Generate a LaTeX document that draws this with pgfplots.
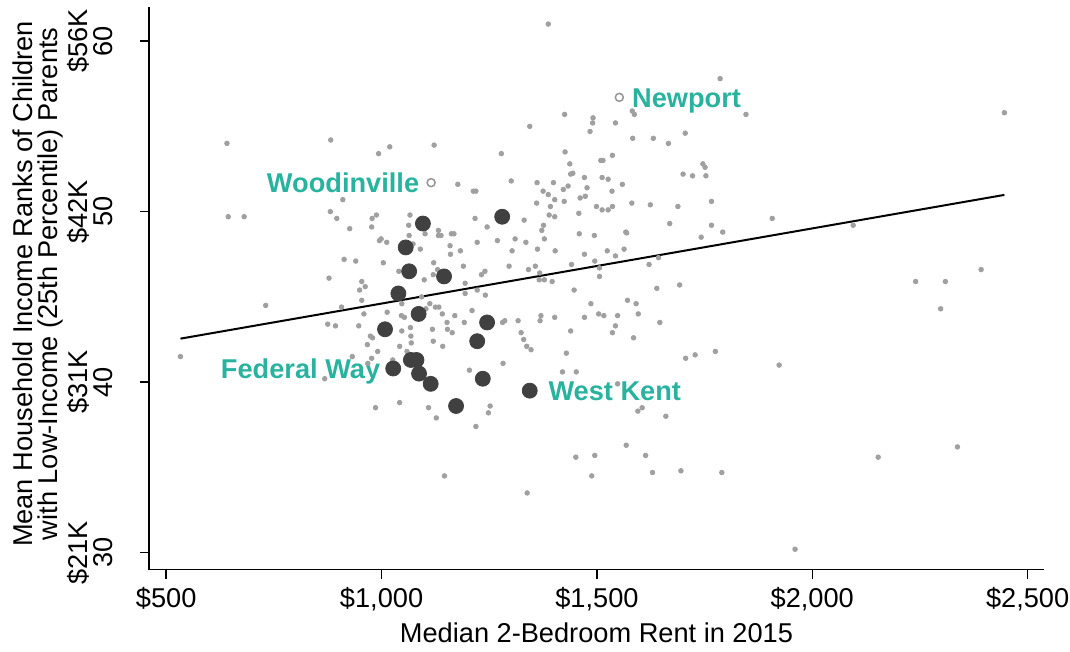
\documentclass[border=0pt]{standalone}
\usepackage{fontspec}
\setmainfont{Liberation Sans}
\usepackage{pgfplots}
\pgfplotsset{compat=1.18}
\definecolor{dotgray}{RGB}{160,160,160}
\definecolor{bigdot}{RGB}{64,64,64}
\definecolor{ringgray}{RGB}{150,150,150}
\definecolor{labteal}{RGB}{41,179,159}
\newcommand{\fs}{\fontsize{13.6}{12.5}\selectfont}

\pgfplotstableread{
X Y
641 54.0
882 54.2
993 53.4
1019 53.8
1122 53.9
910 50.7
1387 61.0
1786 57.8
1582 55.9
1587 55.7
1425 55.7
1344 55.0
1491 55.5
1490 55.2
1543 55.2
1484 54.7
1583 54.3
1631 54.3
1666 54.0
1705 54.6
1278 53.4
1426 53.5
1437 52.8
1509 53.0
1514 53.0
1536 53.3
1439 52.2
1444 52.25
1471 52.0
1512 52.0
1526 51.9
1559 51.6
1700 52.2
1722 52.1
1753 52.1
1746 52.8
1751 52.6
1177 51.6
1213 51.2
1219 51.2
1301 51.8
1361 51.7
1399 51.7
1375 51.2
1387 51.0
1422 51.3
1433 51.5
1477 51.4
1473 50.9
1461 50.8
1535 51.2
1402 50.7
1424 50.6
1766 50.6
1846 55.7
2446 55.8
644 49.7
681 49.7
881 50.0
896 49.6
926 49.0
978 49.6
988 49.8
977 49.1
995 48.3
999 48.4
1012 48.2
1066 49.8
1063 49.2
1064 48.6
1101 48.7
1132 48.9
1132 48.6
1138 48.6
1073 48.1
1090 47.8
913 47.2
940 47.1
1004 47.0
1040 46.5
1121 47.0
1130 46.6
1120 46.3
1099 46.0
878 46.1
954 45.9
949 45.4
962 45.6
954 44.8
731 44.5
907 44.4
959 44.0
1013 44.1
1047 44.6
1093 45.0
1103 44.3
1112 44.6
1125 44.4
1133 44.4
1046 43.9
1053 43.8
875 43.4
893 43.3
947 43.3
1067 43.2
1047 43.0
1118 43.1
1068 42.7
974 42.7
979 42.6
1069 42.3
1120 42.4
967 42.2
1042 42.1
991 41.8
1059 41.8
533 41.5
932 41.5
977 41.4
968 41.1
1026 41.3
868 40.2
1360 50.5
1392 50.3
1499 50.3
1512 50.1
1526 50.1
1536 50.3
1581 50.5
1624 50.4
1688 50.3
1458 49.9
1389 49.8
1402 49.7
1217 49.6
1331 49.5
1376 49.2
1245 49.1
1669 49.3
1766 49.2
1792 48.8
1742 48.5
1372 48.9
1567 48.8
1569 48.75
1459 48.7
1494 48.6
1162 48.7
1168 48.7
1222 48.2
1269 48.3
1310 48.4
1335 48.2
1378 48.4
1159 48.0
1183 47.7
1160 47.5
1303 47.7
1362 47.8
1403 47.7
1471 47.5
1524 47.7
1543 47.4
1563 47.8
1190 46.8
1232 46.3
1240 46.5
1296 46.8
1341 46.6
1357 46.8
1367 46.4
1366 46.0
1378 46.0
1396 45.9
1441 46.9
1495 47.1
1506 46.7
1506 46.2
1621 46.9
1643 47.3
1194 45.8
1194 45.2
1222 45.4
1241 45.1
1447 45.4
1639 45.5
1692 45.7
1141 44.0
1170 43.9
1210 44.2
1486 44.6
1571 44.8
1591 44.6
1596 44.0
1471 43.8
1504 44.0
1516 43.9
1548 43.9
1370 43.9
1368 43.6
1402 43.8
1317 43.6
1286 43.6
1281 43.5
1192 43.5
1152 43.5
1153 43.1
1164 42.9
1646 43.5
1543 43.3
1536 42.9
1585 42.6
1439 43.0
1324 42.9
1330 42.5
1142 42.1
1337 42.1
1347 41.9
1429 41.7
1706 41.4
1728 41.6
1775 41.8
1282 41.1
1204 40.7
1420 40.6
1452 40.6
1548 39.9
1907 49.6
2095 49.2
2240 45.9
2309 45.9
2392 46.6
2298 44.3
1923 41.0
986 38.5
1042 38.8
1109 38.5
1127 37.9
1219 37.4
1252 38.6
1248 38.2
1146 34.5
1338 33.5
1595 38.3
1605 38.5
1660 38.0
1568 36.3
1451 35.6
1495 35.7
1488 34.5
1613 35.7
1629 34.7
1695 34.8
1790 34.7
1960 30.2
2153 35.6
2337 36.2
}\graytable

\pgfplotstableread{
X Y
1096 49.3
1056 47.9
1064 46.5
1039 45.2
1086 44.0
1008 43.1
1027 40.8
1068 41.3
1081 41.3
1087 40.5
1114 39.9
1280 49.7
1145 46.2
1245 43.5
1222 42.4
1235 40.2
1173 38.6
1344 39.5
}\bigtable

\begin{document}
\begin{tikzpicture}
\useasboundingbox (-74.5pt,-41.15pt) rectangle (460.5pt,284.85pt);
\begin{axis}[
  at={(0,0)}, anchor=south west,
  scale only axis, width=447.5pt, height=281.35pt,
  xmin=460, xmax=2538, ymin=29, ymax=62,
  axis x line*=bottom, axis y line*=left,
  axis line style={line width=0.75pt, black},
  tick style={line width=0.75pt, black},
  major tick length=4.5pt, tick align=outside,
  xtick={500,1000,1500,2000,2500},
  xticklabels={{\$500},{\$1,000},{\$1,500},{\$2,000},{\$2,500}},
  ytick={30,40,50,60},
  yticklabels={{\$21K\\30},{\$31K\\40},{\$42K\\50},{\$56K\\60}},
  tick label style={font=\fs},
  yticklabel style={rotate=90, anchor=south, align=center, inner sep=0pt},
  xticklabel style={anchor=base, inner sep=0pt},
  yticklabel shift=13.5pt,
  xticklabel shift=14.5pt,
  label style={font=\fs},
  xlabel={Median 2-Bedroom Rent in 2015},
  xlabel style={at={(axis description cs:0.5,-0.1297)}, anchor=base},
  ylabel={Mean Household Income Ranks of Children\\with Low-Income (25th Percentile) Parents},
  ylabel style={at={(axis description cs:-0.124,0.508)}, anchor=center, align=center},
  clip=false,
]
\addplot[only marks, mark=*, mark size=1.15pt, color=dotgray, mark options={fill=dotgray, draw=none}] table[x=X, y=Y] {\graytable};
\addplot[black, line width=1pt] coordinates {(533,42.55) (2446,50.98)};
\addplot[only marks, mark=*, mark size=3.75pt, color=bigdot, mark options={fill=bigdot, draw=none}] table[x=X, y=Y] {\bigtable};
\addplot[only marks, mark=*, mark size=2pt, color=ringgray, mark options={draw=ringgray, fill=white, line width=0.75pt}] coordinates {(1115,51.7) (1552,56.7)};
\node[font=\fs\bfseries, text=labteal, anchor=base west, inner sep=0pt, xshift=6.2pt, yshift=-4.85pt] at (axis cs:1552,56.7) {Newport};
\node[font=\fs\bfseries, text=labteal, anchor=base east, inner sep=0pt, xshift=-5.8pt, yshift=-4.85pt] at (axis cs:1115,51.7) {Woodinville};
\node[font=\fs\bfseries, text=labteal, anchor=base east, inner sep=0pt, xshift=-6.3pt, yshift=-4.85pt] at (axis cs:1027,40.8) {Federal Way};
\node[font=\fs\bfseries, text=labteal, anchor=base west, inner sep=0pt, xshift=9.2pt, yshift=-4.85pt] at (axis cs:1344,39.5) {West Kent};
\end{axis}
\end{tikzpicture}
\end{document}
